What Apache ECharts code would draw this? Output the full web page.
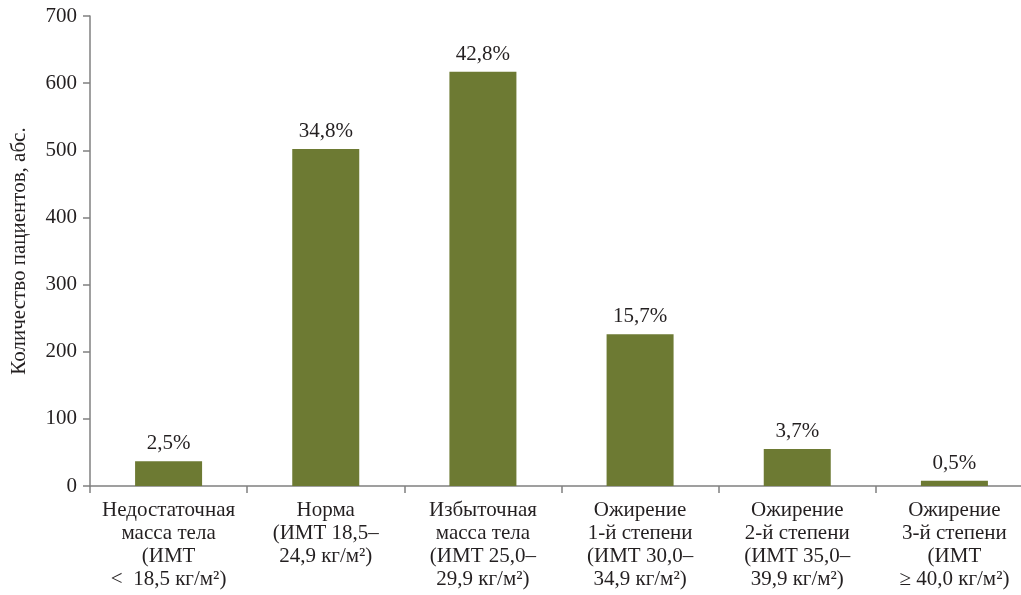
<!DOCTYPE html>
<html>
<head>
<meta charset="utf-8">
<script src="https://cdn.jsdelivr.net/npm/echarts@6/dist/echarts.min.js"></script>
<style>
  html, body { margin: 0; padding: 0; background: #fff; }
  #chart { width: 1021px; height: 595px; }
</style>
</head>
<body>
<div id="chart"></div>
<script>
// BMI groups (x axis categories)
const categories = [
  'Недостаточная\nмасса тела\n(ИМТ\n<\u00a0 18,5 кг/м²)',
  'Норма\n(ИМТ 18,5–\n24,9 кг/м²)',
  'Избыточная\nмасса тела\n(ИМТ 25,0–\n29,9 кг/м²)',
  'Ожирение\n1-й степени\n(ИМТ 30,0–\n34,9 кг/м²)',
  'Ожирение\n2-й степени\n(ИМТ 35,0–\n39,9 кг/м²)',
  'Ожирение\n3-й степени\n(ИМТ\n≥ 40,0 кг/м²)'
];
// Number of patients in each group
const patients = [37, 502, 617, 226, 55, 8];
// Share of all patients, shown above the bars
const shares = ['2,5%', '34,8%', '42,8%', '15,7%', '3,7%', '0,5%'];
// Value axis ticks
const yMin = 0, yMax = 700, yStep = 100;

const FONT = '"Liberation Serif", "DejaVu Serif", serif';
const TEXT = '#231f20';
const AXIS = '#808080';

const chart = echarts.init(document.getElementById('chart'), null, { renderer: 'canvas' });
chart.setOption({
  animation: false,
  backgroundColor: '#ffffff',
  grid: { left: 90, right: -12, top: 16, bottom: 109, containLabel: false, outerBoundsMode: 'none' },
  xAxis: {
    type: 'category',
    data: categories,
    axisLine: { lineStyle: { color: AXIS, width: 1.5 } },
    axisTick: { show: true, length: 7, lineStyle: { color: AXIS, width: 1.5 } },
    axisLabel: {
      interval: 0, margin: 13, color: TEXT, fontFamily: FONT, fontSize: 21,
      lineHeight: 23, align: 'center'
    }
  },
  yAxis: {
    type: 'value',
    min: yMin, max: yMax, interval: yStep,
    name: 'Количество пациентов, абс.',
    nameLocation: 'middle', nameGap: 60, nameRotate: 90,
    nameTextStyle: { color: TEXT, fontFamily: FONT, fontSize: 21 },
    splitLine: { show: false },
    axisLine: { show: true, lineStyle: { color: AXIS, width: 1.5 } },
    axisTick: { show: true, length: 7, lineStyle: { color: AXIS, width: 1.5 } },
    axisLabel: { margin: 13, color: TEXT, fontFamily: FONT, fontSize: 21 }
  },
  series: [{
    type: 'bar',
    data: patients,
    barWidth: 67,
    itemStyle: { color: '#6d7a33' },
    label: {
      show: true, position: 'top', distance: 7,
      color: TEXT, fontFamily: FONT, fontSize: 21,
      formatter: p => shares[p.dataIndex]
    }
  }]
});
</script>
</body>
</html>
